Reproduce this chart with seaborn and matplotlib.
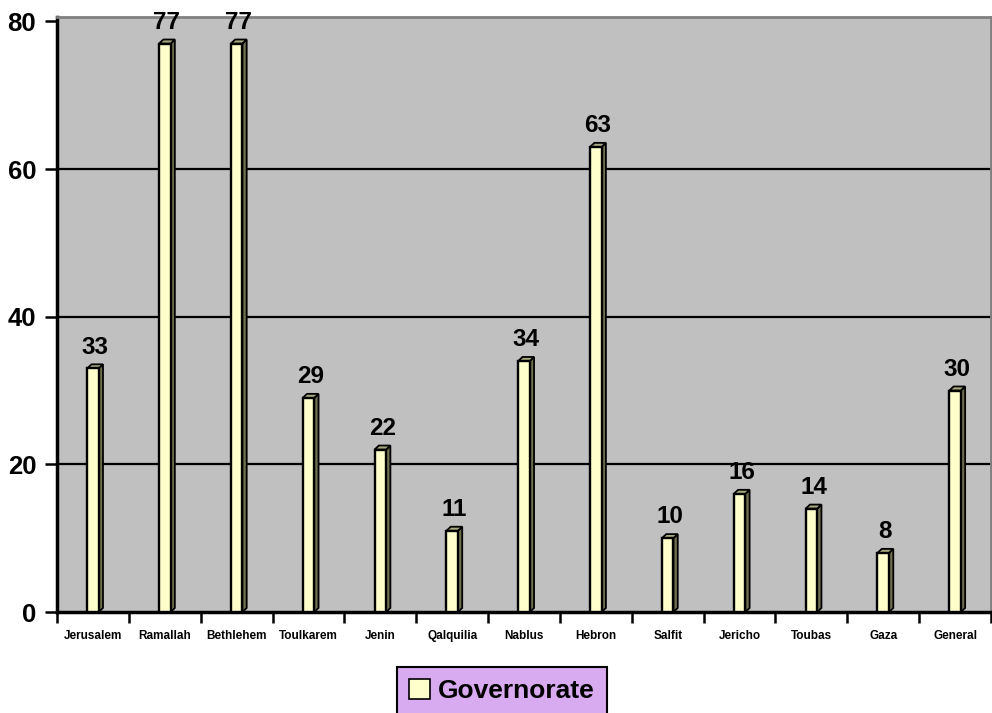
import matplotlib
matplotlib.use("Agg")
import matplotlib.pyplot as plt
import seaborn as sns
import pandas as pd
from matplotlib.patches import Polygon, Patch

categories = ['Jerusalem', 'Ramallah', 'Bethlehem', 'Toulkarem', 'Jenin', 'Qalquilia',
              'Nablus', 'Hebron', 'Salfit', 'Jericho', 'Toubas', 'Gaza', 'General']
values = [33, 77, 77, 29, 22, 11, 34, 63, 10, 16, 14, 8, 30]
series_name = 'Governorate'
yticks = [0, 20, 40, 60, 80]

df = pd.DataFrame({'cat': categories, 'val': values})

sns.set_style('white')
plt.rcParams['font.family'] = ['Liberation Sans', 'DejaVu Sans']
plt.rcParams['text.color'] = 'black'
plt.rcParams['xtick.color'] = 'black'
plt.rcParams['ytick.color'] = 'black'
plt.rcParams['xtick.labelcolor'] = 'black'
plt.rcParams['ytick.labelcolor'] = 'black'

fig = plt.figure(figsize=(9.92, 7.13), dpi=100)
ax = fig.add_axes([57/992, 1-612/713, (991-57)/992, (612-17)/713])
ax.set_facecolor('#C0C0C0')

sns.barplot(data=df, x='cat', y='val', ax=ax, color='#FFFFCC', width=0.16,
            edgecolor='black', linewidth=1.7, saturation=1, zorder=3)

ax.set_ylim(0, 80.6)
ax.set_xlim(-0.5, len(categories) - 0.5)

# 3D side faces and tops derived from bar geometry
dx, dy = 0.06, 0.55
for p in list(ax.patches):
    x0 = p.get_x(); w = p.get_width(); h = p.get_height()
    x1 = x0 + w
    side = Polygon([(x1, 0), (x1 + dx, dy), (x1 + dx, h + dy), (x1, h)], closed=True,
                   facecolor='#707050', edgecolor='black', linewidth=1.3, zorder=2.9)
    top = Polygon([(x0, h), (x0 + dx, h + dy), (x1 + dx, h + dy), (x1, h)], closed=True,
                  facecolor='#A8A880', edgecolor='black', linewidth=1.3, zorder=2.9)
    ax.add_patch(side); ax.add_patch(top)
    ax.annotate(f'{int(h)}', (x0 + w/2 + dx/2, h), xytext=(0, 7), textcoords='offset points',
                ha='center', va='bottom', fontsize=17.5, fontweight='bold', zorder=5,
                color='black', annotation_clip=False)

# gridlines
for yv in yticks[1:-1]:
    ax.axhline(yv, color='black', linewidth=1.6, zorder=1)

ax.set_yticks(yticks)
ax.set_yticklabels([str(t) for t in yticks], fontsize=18.5, fontweight='bold')
ax.set_xticks(range(len(categories)))
ax.set_xticklabels(categories, fontsize=8.5, fontweight='bold')
ax.set_xticks([i - 0.5 for i in range(len(categories) + 1)], minor=True)
ax.tick_params(axis='x', which='major', length=0, pad=13, bottom=True)
ax.tick_params(axis='x', which='minor', length=8, width=1.8, color='black',
               direction='out', bottom=True)
ax.tick_params(axis='y', length=9, width=1.8, color='black', direction='out', pad=6, left=True)
ax.set_xlabel('')
ax.set_ylabel('')

for s in ['left', 'bottom']:
    ax.spines[s].set_color('black'); ax.spines[s].set_linewidth(2.5)
for s in ['top', 'right']:
    ax.spines[s].set_color('#808080'); ax.spines[s].set_linewidth(2)

handle = Patch(facecolor='#FFFFCC', edgecolor='black', linewidth=1.2)
leg = fig.legend([handle], [series_name], loc='center', bbox_to_anchor=(502/992, 1-691/713),
                 frameon=True, fancybox=False, facecolor='#D8AAF0', edgecolor='black',
                 prop={'size': 19, 'weight': 'bold'}, handlelength=0.8, handleheight=0.8,
                 handletextpad=0.3, borderpad=0.45, borderaxespad=0)
leg.get_frame().set_linewidth(1.5)
leg.get_frame().set_alpha(1)

fig.savefig('out.png', dpi=100)
